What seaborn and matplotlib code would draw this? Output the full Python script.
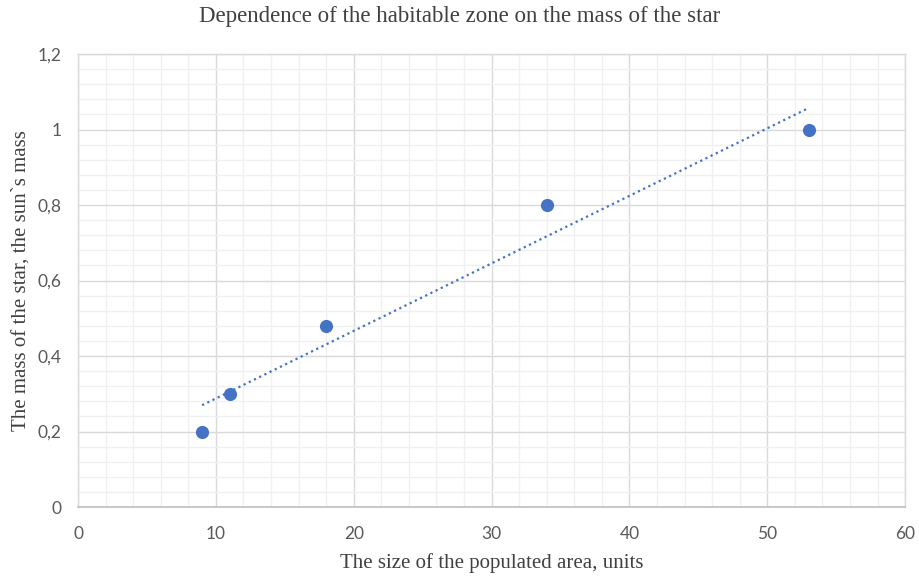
import numpy as np
import pandas as pd
import matplotlib
matplotlib.use("Agg")
import matplotlib.pyplot as plt
import seaborn as sns
from matplotlib.ticker import MultipleLocator, FuncFormatter

# Data
area_size = [9, 11, 18, 34, 53]
star_mass = [0.2, 0.3, 0.48, 0.8, 1.0]
title = "Dependence of the habitable zone on the mass of the star"
xlabel = "The size of the populated area, units"
ylabel = "The mass of the star, the sun`s mass"

df = pd.DataFrame({"x": area_size, "y": star_mass})

sns.set_theme(style="white")
plt.rcParams["font.family"] = ["Lato", "DejaVu Sans"]

fig = plt.figure(figsize=(9.19, 5.77), dpi=100)
ax = fig.add_axes([0.0849, 0.1213, 0.9001, 0.7851])

blue = "#4472C4"
# trendline (linear fit)
coef = np.polyfit(df["x"], df["y"], 1)
xs = np.array([min(area_size), max(area_size)])
ax.plot(xs, np.polyval(coef, xs), linestyle=(0, (1, 1.6)), color=blue, lw=1.6, zorder=3)

sns.scatterplot(data=df, x="x", y="y", ax=ax, color=blue, s=90, edgecolor=blue, linewidth=0, zorder=4)

ax.set_xlim(0, 60)
ax.set_ylim(0, 1.2)
ax.xaxis.set_major_locator(MultipleLocator(10))
ax.xaxis.set_minor_locator(MultipleLocator(2))
ax.yaxis.set_major_locator(MultipleLocator(0.2))
ax.yaxis.set_minor_locator(MultipleLocator(0.04))

def yfmt(v, pos):
    s = f"{v:.1f}"
    if s.endswith(".0"):
        s = s[:-2]
    return s.replace(".", ",")
ax.yaxis.set_major_formatter(FuncFormatter(yfmt))

ax.grid(which="major", color="#D9D9D9", lw=1.0, zorder=0)
ax.grid(which="minor", color="#F0F0F0", lw=1.0, zorder=0)
ax.set_axisbelow(True)
for side in ["top", "right", "left"]:
    ax.spines[side].set_color("#D9D9D9")
    ax.spines[side].set_linewidth(1.0)
ax.spines["bottom"].set_color("#BFBFBF")
ax.spines["bottom"].set_linewidth(1.2)

ax.tick_params(which="both", length=0, labelsize=12.5, labelcolor="#595959")
ax.tick_params(axis="x", pad=14)
ax.tick_params(axis="y", pad=12)

serif = ["Liberation Serif", "DejaVu Serif"]
ax.set_xlabel(xlabel, family=serif, fontsize=15, color="#404040", labelpad=8)
ax.set_ylabel(ylabel, family=serif, fontsize=15, color="#404040", labelpad=5)
fig.text(0.5, 0.972, title, family=serif, fontsize=16.5, color="#404040", ha="center", va="center")

fig.savefig("out.png", dpi=100)
